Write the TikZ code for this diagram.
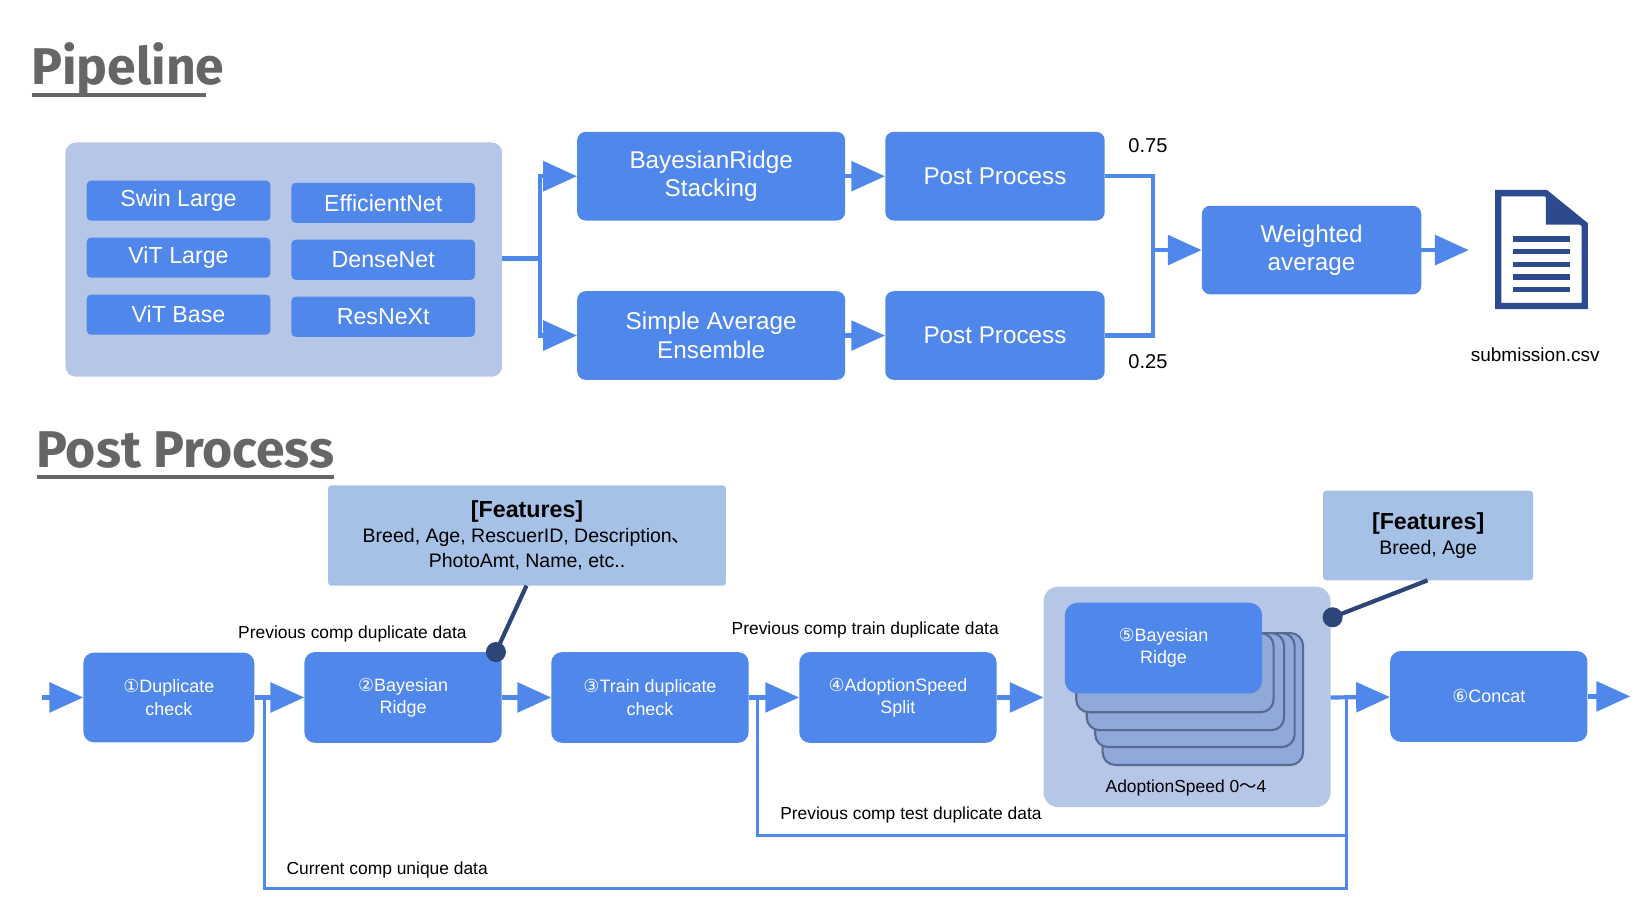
\documentclass[tikz,border=0pt]{standalone}
\usepackage{fontspec}
\setmainfont{Liberation Sans}
\newfontfamily\djv{DejaVu Sans}
\newfontfamily\cjk{Noto Sans CJK JP}
\newfontfamily\ttl{Fira Sans}
\usetikzlibrary{arrows.meta}
\definecolor{bl}{HTML}{5087EA}
\definecolor{pane}{HTML}{B6C6E6}
\definecolor{feat}{HTML}{A5C1E6}
\definecolor{lay}{HTML}{90A9D9}
\definecolor{dk}{HTML}{2D4677}
\definecolor{doc}{HTML}{2E4A8E}
\begin{document}
\begin{tikzpicture}[x=1pt,y=-1pt,
 box/.style={fill=bl,rounded corners=8pt,text=white,align=center,font=\fontsize{23}{27}\selectfont},
 sbox/.style={fill=bl,rounded corners=8pt,text=white,align=center,font=\fontsize{17}{21}\selectfont},
 mb/.style={fill=bl,rounded corners=4pt,text=white,font=\fontsize{22}{26}\selectfont},
 con/.style={draw=bl,line width=4pt,-{Triangle[length=32pt,width=28pt]}},
 ln/.style={draw=bl,line width=4pt},
 bp/.style={draw=bl,line width=3pt},
 lab/.style={font=\fontsize{16.5}{20}\selectfont},
 ttlst/.style={text=black!60,font=\ttl\bfseries\fontsize{49}{53}\selectfont,anchor=base west},
 pin/.style={draw=dk,line width=4pt}]
\useasboundingbox (0,0) rectangle (1560,862.5);
% titles
\node[ttlst] (t1) at (26,80) {Pipeline};
\draw[black!60,line width=3pt] (30,90) -- (195,90);
\node[ttlst] (t2) at (31,443) {Post Process};
\draw[black!60,line width=3pt] (35,452) -- (317,452);
% pipeline
\path[fill=pane,rounded corners=10pt] (62,135) rectangle (476,357);
\coordinate (pr) at (476,245);
\foreach \n/\t/\x/\y in {a/Swin Large/82/171,b/ViT Large/82/225,c/ViT Base/82/279,d/EfficientNet/276/173,e/DenseNet/276/227,f/ResNeXt/276/281}
  \node[mb,minimum width=174pt,minimum height=38pt,anchor=north west] (\n) at (\x,\y) {\t};
\node[box,minimum width=254pt,minimum height=84pt] (br) at (674,167) {BayesianRidge\\Stacking};
\node[box,minimum width=254pt,minimum height=84pt] (sa) at (674,318) {Simple Average\\Ensemble};
\node[box,minimum width=208pt,minimum height=84pt] (pp1) at (943,167) {Post Process};
\node[box,minimum width=208pt,minimum height=84pt] (pp2) at (943,318) {Post Process};
\node[box,minimum width=208pt,minimum height=84pt] (wa) at (1243,237) {Weighted\\average};
\draw[ln] (pr) -- (512,245);
\draw[con] (512,245) |- (br.west);
\draw[con] (512,245) |- (sa.west);
\draw[con] (br) -- (pp1);
\draw[con] (sa) -- (pp2);
\draw[ln] (pp1.east) -| (1093,237);
\draw[ln] (pp2.east) -| (1093,237);
\draw[con] (1093,237) -- (wa.west);
\node[lab,font=\fontsize{19}{22}\selectfont] (w1) at (1088,138) {0.75};
\node[lab,font=\fontsize{19}{22}\selectfont] (w2) at (1088,343) {0.25};
% document icon
\coordinate (dc) at (1461,237);
\draw[con] (wa.east) -- (1392,237);
\draw[doc,line width=6pt,line join=miter] (1420,183) -- (1465,183) -- (1502,213) -- (1502,290) -- (1420,290) -- cycle;
\fill[doc] (1465,183) -- (1465,213) -- (1502,213) -- cycle;
\foreach \yy in {224,236,248,260,272} \fill[doc] (1434,\yy) rectangle (1488,\yy+5);
\node[lab,font=\fontsize{18}{22}\selectfont] (sub) at (1455,336) {submission.csv};
% post process
\node[fill=feat,minimum width=377pt,minimum height=95pt,align=center,rounded corners=3pt,font=\fontsize{18.5}{24}\selectfont] (f1) at (499.5,507.5) {\textbf{\fontsize{22}{26}\selectfont[Features]}\\Breed, Age, RescuerID, Description{\cjk 、}\\PhotoAmt, Name, etc..};
\node[fill=feat,minimum width=199pt,minimum height=85pt,align=center,rounded corners=3pt,font=\fontsize{18.5}{24}\selectfont] (f2) at (1353.5,507.5) {\textbf{\fontsize{22}{26}\selectfont[Features]}\\Breed, Age};
\path[fill=pane,rounded corners=14pt] (989,556) rectangle (1261,765);
\foreach \l/\r/\b in {1045/1235/725,1038/1227/708,1030/1217/692,1020/1207/675}
  \draw[dk!80,fill=lay,line width=2pt,rounded corners=12pt] (\l,600) rectangle (\r,\b);
\node[sbox,minimum width=187pt,minimum height=86pt,anchor=north west,rounded corners=12pt] (n5) at (1009,571) {{\djv ⑤}Bayesian\\Ridge};
\node[lab] (as) at (1124,747) {AdoptionSpeed 0{\cjk 〜}4};
\node[sbox,minimum width=162pt,minimum height=85pt,rounded corners=10pt] (n1) at (160,661) {{\djv ①}Duplicate\\check};
\node[sbox,minimum width=187pt,minimum height=86pt,rounded corners=10pt] (n2) at (382,661) {{\djv ②}Bayesian\\Ridge};
\node[sbox,minimum width=187pt,minimum height=86pt,rounded corners=10pt] (n3) at (616,661) {{\djv ③}Train duplicate\\check};
\node[sbox,minimum width=187pt,minimum height=86pt,rounded corners=10pt] (n4) at (851,661) {{\djv ④}AdoptionSpeed\\Split};
\node[sbox,minimum width=187pt,minimum height=86pt,rounded corners=10pt] (n6) at (1411,660) {{\djv ⑥}Concat};
\coordinate (in) at (40,661);
\coordinate (out) at (1545,660);
\coordinate (cr) at (1261,661);
\draw[con] (in) -- (n1);
\draw[con] (n1) -- (n2);
\draw[con] (n2) -- (n3);
\draw[con] (n3) -- (n4);
\draw[con] (n4) -- (989,661);
\draw[con] (cr) -- (n6);
\draw[con] (n6) -- (out);
\draw[bp] (251,661) -- (251,842) -- (1276,842) -- (1276,661);
\draw[bp] (718,661) -- (718,792) -- (1276,792);
\node[lab,anchor=west] (l1) at (268,825) {Current comp unique data};
\node[lab,anchor=west] (l2) at (736,772) {Previous comp test duplicate data};
\node[lab] (l3) at (334,601) {Previous comp duplicate data};
\node[lab] (l4) at (820,597) {Previous comp train duplicate data};
% pins
\coordinate (p1) at (470,618);
\coordinate (p2) at (1263,585);
\draw[pin] (499,555) -- (p1);
\fill[dk] (p1) circle (9.5pt);
\draw[pin] (1353,550) -- (p2);
\fill[dk] (p2) circle (9.5pt);
\end{tikzpicture}
\end{document}
